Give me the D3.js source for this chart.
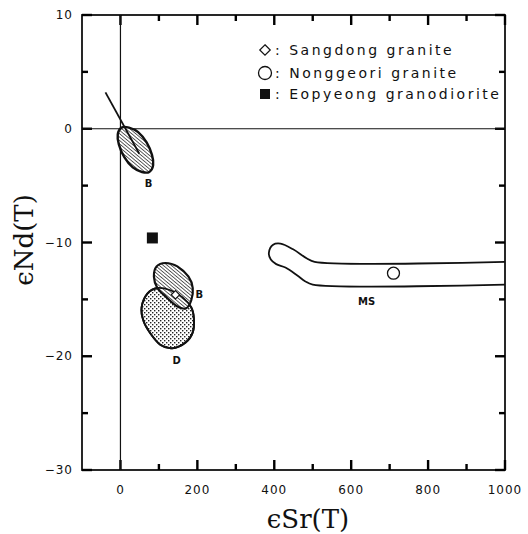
<!DOCTYPE html>
<html>
<head>
	<title>eNd vs eSr</title>
	<script src="https://d3js.org/d3.v7.min.js"></script>
	<style type="text/css">
		*
		{
			margin:0;
			padding:0;
		}
		body
		{
			background:#fff;
		}
		.tick-label
		{
			font-family: "DejaVu Sans", sans-serif;
			font-size: 12px;
			letter-spacing: 1px;
			fill: #111;
		}
		.legend-text
		{
			font-family: "DejaVu Sans", sans-serif;
			font-size: 14px;
			letter-spacing: 2.5px;
			fill: #111;
		}
		.field-label
		{
			font-family: "DejaVu Sans", sans-serif;
			font-size: 10px;
			font-weight: bold;
			fill: #111;
		}
		.axis-title
		{
			font-family: "DejaVu Serif", serif;
			font-size: 26px;
			fill: #111;
		}
	</style>
</head>
<body>
	<div id="chart"></div>
	<script>
		// tick values
		const xMajor = [0, 200, 400, 600, 800, 1000];
		const xMinor = [100, 300, 500, 700, 900];
		const yMajor = [-30, -20, -10, 0, 10];
		const yMinor = [-25, -15, -5, 5];

		// field outlines (eSr, eNd)
		const fieldB1 = [[75,-3.8],[85,-3.2],[82,-2.3],[68,-1.2],[46,-0.3],[22,0.1],[3,0.1],[-7,-0.5],[-4,-1.4],[10,-2.5],[32,-3.4],[56,-3.8]];
		const fieldB2 = [[94,-12.1],[117,-11.8],[148,-12.1],[177,-13.0],[188,-14.0],[184,-15.1],[170,-15.8],[147,-15.6],[119,-14.8],[96,-14.0],[87,-13.0]];
		const fieldD = [[55,-15.7],[70,-14.5],[96,-14.0],[130,-14.2],[161,-14.8],[184,-15.7],[191,-16.7],[188,-17.9],[169,-18.8],[135,-19.3],[104,-19.0],[78,-18.0],[60,-16.9]];
		const fieldMS = [[1000,-11.7],[505,-11.7],[485,-11.4],[449,-10.6],[416,-10.1],[397,-10.2],[386,-10.9],[391,-11.5],[405,-11.9],[429,-12.2],[460,-12.9],[480,-13.4],[500,-13.7],[1000,-13.7]];
		const trendLine = [[-39,3.2],[49,-2.2]];

		// samples
		const sangdong = [[143,-14.6]];
		const nonggeori = [[710,-12.7]];
		const eopyeong = [[83,-9.6]];

		const fieldLabels = [
			{text:"B", x:73, y:-4.9},
			{text:"B", x:205, y:-14.6},
			{text:"D", x:146, y:-20.4},
			{text:"MS", x:640, y:-15.2}
		];
		const legendItems = [
			{symbol:"diamond", text:": Sangdong granite"},
			{symbol:"circle", text:": Nonggeori granite"},
			{symbol:"square", text:": Eopyeong granodiorite"}
		];

		const width = 528;
		const height = 534;
		const margin = {left:82, right:23, top:15, bottom:64};

		const svg = d3.select("#chart").append("svg")
			.attr("width", width)
			.attr("height", height);

		const xScale = d3.scaleLinear().domain([-100, 1000]).range([margin.left, width-margin.right]);
		const yScale = d3.scaleLinear().domain([-30, 10]).range([height-margin.bottom, margin.top]);

		// patterns
		const defs = svg.append("defs");
		const hatch = defs.append("pattern")
			.attr("id", "hatch")
			.attr("patternUnits", "userSpaceOnUse")
			.attr("width", 2.6).attr("height", 2.6)
			.attr("patternTransform", "rotate(-50)");
		hatch.append("rect").attr("width", 2.6).attr("height", 2.6).attr("fill", "#fff");
		hatch.append("line").attr("x1", 0).attr("y1", 0).attr("x2", 0).attr("y2", 2.6)
			.attr("stroke", "#111").attr("stroke-width", 1.3);

		const dots = defs.append("pattern")
			.attr("id", "dots")
			.attr("patternUnits", "userSpaceOnUse")
			.attr("width", 4).attr("height", 4);
		dots.append("rect").attr("width", 4).attr("height", 4).attr("fill", "#fff");
		dots.append("rect").attr("x", 0).attr("y", 0).attr("width", 1.4).attr("height", 1.4).attr("fill", "#222");
		dots.append("rect").attr("x", 2).attr("y", 2).attr("width", 1.4).attr("height", 1.4).attr("fill", "#222");

		const line = d3.line().x(d => xScale(d[0])).y(d => yScale(d[1]));
		const closed = d3.line().x(d => xScale(d[0])).y(d => yScale(d[1])).curve(d3.curveCardinalClosed.tension(0.1));
		const smooth = d3.line().x(d => xScale(d[0])).y(d => yScale(d[1])).curve(d3.curveCatmullRom);

		// frame
		const x0 = margin.left, x1 = width - margin.right;
		const y0 = height - margin.bottom, y1 = margin.top;
		svg.append("rect")
			.attr("x", x0).attr("y", y1)
			.attr("width", x1 - x0)
			.attr("height", y0 - y1)
			.attr("fill", "none").attr("stroke", "#111").attr("stroke-width", 1.8);

		// inward ticks on all four sides, as thin filled rects
		const xTicks = xMajor.map(v => ({v:v, len:10})).concat(xMinor.map(v => ({v:v, len:6})));
		const yTicks = yMajor.map(v => ({v:v, len:10})).concat(yMinor.map(v => ({v:v, len:6})));
		const tw = 2.4;
		const tickG = svg.append("g").attr("fill", "#000");
		tickG.selectAll(null).data(xTicks).enter().append("rect")
			.attr("x", d => xScale(d.v) - tw/2).attr("y", d => y0 - d.len)
			.attr("width", tw).attr("height", d => d.len);
		tickG.selectAll(null).data(xTicks).enter().append("rect")
			.attr("x", d => xScale(d.v) - tw/2).attr("y", y1)
			.attr("width", tw).attr("height", d => d.len);
		tickG.selectAll(null).data(yTicks).enter().append("rect")
			.attr("x", x0).attr("y", d => yScale(d.v) - tw/2)
			.attr("width", d => d.len).attr("height", tw);
		tickG.selectAll(null).data(yTicks).enter().append("rect")
			.attr("x", d => x1 - d.len).attr("y", d => yScale(d.v) - tw/2)
			.attr("width", d => d.len).attr("height", tw);

		// reference lines through zero
		svg.append("line")
			.attr("x1", xScale(0)).attr("x2", xScale(0))
			.attr("y1", yScale(10)).attr("y2", yScale(-30))
			.attr("stroke", "#111").attr("stroke-width", 1.2);
		svg.append("line")
			.attr("x1", xScale(-100)).attr("x2", xScale(1000))
			.attr("y1", yScale(0)).attr("y2", yScale(0))
			.attr("stroke", "#111").attr("stroke-width", 1.2);

		// fields
		svg.append("path").attr("d", closed(fieldB1))
			.attr("fill", "url(#hatch)").attr("stroke", "#111").attr("stroke-width", 2.4);
		svg.append("path").attr("d", closed(fieldD))
			.attr("fill", "url(#dots)").attr("stroke", "#111").attr("stroke-width", 2);
		svg.append("path").attr("d", closed(fieldB2))
			.attr("fill", "url(#hatch)").attr("stroke", "#111").attr("stroke-width", 2.2);
		svg.append("path").attr("d", closed(fieldD))
			.attr("fill", "none").attr("stroke", "#111").attr("stroke-width", 1.8);
		svg.append("path").attr("d", smooth(fieldMS))
			.attr("fill", "none").attr("stroke", "#111").attr("stroke-width", 1.8);

		svg.append("path").attr("d", line(trendLine))
			.attr("fill", "none").attr("stroke", "#111").attr("stroke-width", 1.8);

		// samples
		svg.selectAll(".sangdong").data(sangdong).enter().append("path")
			.attr("class", "sangdong")
			.attr("transform", d => "translate(" + xScale(d[0]) + "," + yScale(d[1]) + ")")
			.attr("d", d3.symbol().type(d3.symbolDiamond2).size(45))
			.attr("fill", "#fff").attr("stroke", "#111").attr("stroke-width", 1.2);
		svg.selectAll(".nonggeori").data(nonggeori).enter().append("circle")
			.attr("class", "nonggeori")
			.attr("cx", d => xScale(d[0])).attr("cy", d => yScale(d[1])).attr("r", 6)
			.attr("fill", "#fff").attr("stroke", "#111").attr("stroke-width", 1.3);
		svg.selectAll(".eopyeong").data(eopyeong).enter().append("rect")
			.attr("class", "eopyeong")
			.attr("x", d => xScale(d[0]) - 5.5).attr("y", d => yScale(d[1]) - 5.5)
			.attr("width", 11).attr("height", 11)
			.attr("fill", "#111");

		svg.selectAll(".field-label").data(fieldLabels).enter().append("text")
			.attr("class", "field-label")
			.attr("x", d => xScale(d.x)).attr("y", d => yScale(d.y))
			.attr("text-anchor", "middle")
			.attr("dominant-baseline", "middle")
			.text(d => d.text);

		// tick labels
		svg.selectAll(".xlab").data(xMajor).enter().append("text")
			.attr("class", "tick-label")
			.attr("x", d => xScale(d)).attr("y", y0 + 24)
			.attr("text-anchor", "middle")
			.text(d => d);
		svg.selectAll(".ylab").data(yMajor).enter().append("text")
			.attr("class", "tick-label")
			.attr("x", x0 - 9).attr("y", d => yScale(d))
			.attr("text-anchor", "end")
			.attr("dominant-baseline", "central")
			.text(d => d < 0 ? "\u2212" + (-d) : d);

		// legend
		const legend = svg.append("g").attr("transform", "translate(265,50)");
		const rows = legend.selectAll("g").data(legendItems).enter().append("g")
			.attr("transform", (d, i) => "translate(0," + [0, 23, 44][i] + ")");
		rows.filter(d => d.symbol == "diamond").append("path")
			.attr("d", d3.symbol().type(d3.symbolDiamond2).size(70))
			.attr("fill", "#fff").attr("stroke", "#111").attr("stroke-width", 1.2);
		rows.filter(d => d.symbol == "circle").append("circle")
			.attr("r", 6.5).attr("fill", "#fff").attr("stroke", "#111").attr("stroke-width", 1.3);
		rows.filter(d => d.symbol == "square").append("rect")
			.attr("x", -5).attr("y", -5).attr("width", 10).attr("height", 10).attr("fill", "#111");
		rows.append("text")
			.attr("class", "legend-text")
			.attr("x", 10).attr("y", 0)
			.attr("dominant-baseline", "central")
			.text(d => d.text);

		// axis titles
		svg.append("text").attr("class", "axis-title")
			.attr("x", 308).attr("y", 528)
			.attr("text-anchor", "middle")
			.text("\u03f5Sr(T)");
		svg.append("text").attr("class", "axis-title")
			.attr("transform", "translate(33,240) rotate(-90)")
			.attr("text-anchor", "middle")
			.text("\u03f5Nd(T)");
	</script>
</body>
</html>
